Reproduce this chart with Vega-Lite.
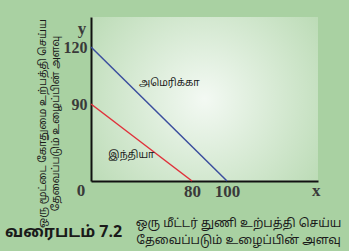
{
  "$schema": "https://vega.github.io/schema/vega-lite/v6.json",
  "width": 227,
  "height": 164,
  "autosize": {"type": "none"},
  "padding": {"left": 91, "top": 17, "right": 31, "bottom": 70},
  "background": "#a9d1a2",
  "view": {
    "stroke": null,
    "fill": {
      "gradient": "radial",
      "x1": 0.5, "y1": 0.5, "r1": 0,
      "x2": 0.5, "y2": 0.5, "r2": 0.75,
      "stops": [
        {"offset": 0, "color": "#f3f9f3"},
        {"offset": 1, "color": "#b0d5a9"}
      ]
    }
  },
  "title": {
    "text": "வரைபடம் 7.2",
    "orient": "bottom",
    "anchor": "start",
    "frame": "group",
    "dx": -86,
    "offset": -21,
    "font": "Noto Sans Tamil, Noto Sans, sans-serif",
    "fontSize": 16,
    "fontWeight": "bold",
    "color": "#1a1a1a"
  },
  "datasets": {
    "lines": [
      {"country": "அமெரிக்கா", "x": 0, "y": 120},
      {"country": "அமெரிக்கா", "x": 100, "y": 0},
      {"country": "இந்தியா", "x": 0, "y": 90},
      {"country": "இந்தியா", "x": 80, "y": 0}
    ],
    "labels": [
      {"label": "அமெரிக்கா", "x": 62, "y": 101},
      {"label": "இந்தியா", "x": 32, "y": 30}
    ],
    "ylabel": [{"t": "y", "x": 0, "y": 139}],
    "xlabel": [{"t": "x", "x": 151, "y": 0}],
    "origin": [{"t": "0", "x": 0, "y": 0}]
  },
  "encoding": {
    "x": {
      "field": "x", "type": "quantitative",
      "scale": {"domain": [0, 80, 100, 152], "range": [0, 101, 136, 227], "nice": false, "zero": false},
      "axis": {
        "values": [80, 100],
        "ticks": false,
        "grid": false,
        "domainColor": "#111111",
        "domainWidth": 2,
        "labelFont": "Liberation Serif",
        "labelFontSize": 17,
        "labelFontWeight": "bold",
        "labelColor": "#3a3a3a",
        "labelPadding": 2,
        "title": ["ஒரு மீட்டர் துணி உற்பத்தி செய்ய", "தேவைப்படும் உழைப்பின் அளவு"],
        "titleFont": "Noto Sans Tamil, Noto Sans, sans-serif",
        "titleFontSize": 12,
        "titleFontWeight": "normal",
        "titleColor": "#1a1a1a",
        "titleLineHeight": 17,
        "titleBaseline": "middle",
        "titleX": 147,
        "titleY": 41
      }
    },
    "y": {
      "field": "y", "type": "quantitative",
      "scale": {"domain": [0, 90, 120, 147], "range": [164, 87, 30, 0], "nice": false, "zero": false},
      "axis": {
        "values": [90, 120],
        "ticks": false,
        "grid": false,
        "domainColor": "#111111",
        "domainWidth": 2,
        "labelFont": "Liberation Serif",
        "labelFontSize": 16,
        "labelFontWeight": "bold",
        "labelColor": "#3a3a3a",
        "labelPadding": 4,
        "title": ["ஒரு மூட்டை கோதுமை உற்பத்தி செய்ய", "தேவைப்படும் உழைப்பின் அளவு"],
        "titleFont": "Noto Sans Tamil, Noto Sans, sans-serif",
        "titleFontSize": 10.3,
        "titleFontWeight": "normal",
        "titleColor": "#1a1a1a",
        "titleLineHeight": 13,
        "titleAngle": -90,
        "titleBaseline": "middle",
        "titleAlign": "center",
        "titleX": -49,
        "titleY": 106
      }
    }
  },
  "layer": [
    {
      "data": {"name": "lines"},
      "mark": {"type": "line", "strokeWidth": 1.5, "clip": false},
      "encoding": {
        "color": {
          "field": "country", "type": "nominal",
          "scale": {"domain": ["அமெரிக்கா", "இந்தியா"], "range": ["#3b4e9e", "#e0313b"]},
          "legend": null
        }
      }
    },
    {
      "data": {"name": "labels"},
      "mark": {"type": "text", "font": "Noto Sans Tamil, Noto Sans, sans-serif", "fontSize": 10, "color": "#1a1a1a", "align": "center", "baseline": "middle"},
      "encoding": {"text": {"field": "label"}}
    },
    {
      "data": {"name": "ylabel"},
      "mark": {"type": "text", "font": "Liberation Serif", "fontSize": 17, "fontWeight": "bold", "color": "#3a3a3a", "align": "center", "baseline": "middle", "dx": -9, "dy": 3},
      "encoding": {"text": {"field": "t"}}
    },
    {
      "data": {"name": "xlabel"},
      "mark": {"type": "text", "font": "Liberation Serif", "fontSize": 17, "fontWeight": "bold", "color": "#3a3a3a", "align": "center", "baseline": "middle", "dx": 0, "dy": 10},
      "encoding": {"text": {"field": "t"}}
    },
    {
      "data": {"name": "origin"},
      "mark": {"type": "text", "font": "Liberation Serif", "fontSize": 17, "fontWeight": "bold", "color": "#3a3a3a", "align": "center", "baseline": "middle", "dx": -10, "dy": 10},
      "encoding": {"text": {"field": "t"}}
    }
  ]
}
